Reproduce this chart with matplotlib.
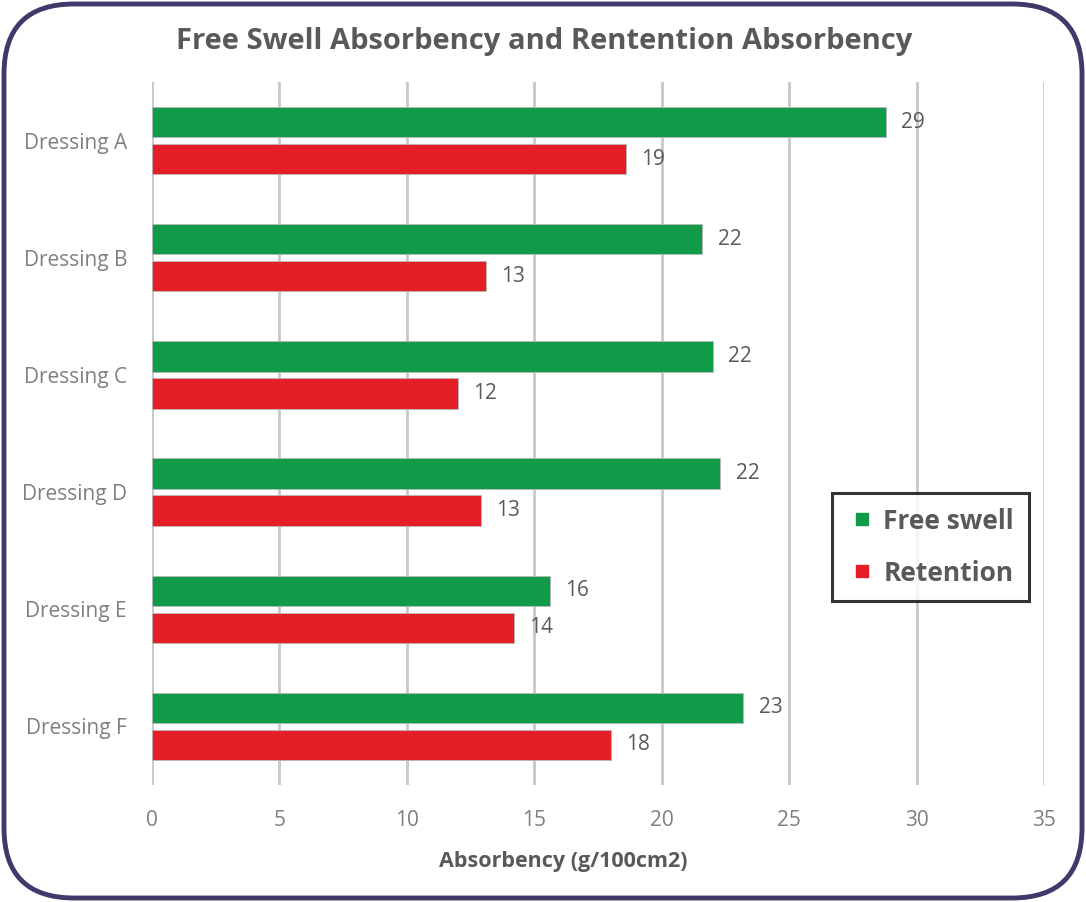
import numpy as np
import matplotlib
matplotlib.use('Agg')
import matplotlib.pyplot as plt
from matplotlib.patches import FancyBboxPatch
from matplotlib.lines import Line2D
from matplotlib.transforms import IdentityTransform

plt.rcParams['font.family'] = ['Open Sans', 'DejaVu Sans']

dressings = ['Dressing A', 'Dressing B', 'Dressing C', 'Dressing D', 'Dressing E', 'Dressing F']
free_swell = [28.8, 21.6, 22.0, 22.3, 15.6, 23.2]
retention = [18.6, 13.1, 12.0, 12.9, 14.2, 18.0]
series_names = ['Free swell', 'Retention']
xticks = [0, 5, 10, 15, 20, 25, 30, 35]

green = '#119a48'
red = '#e31e27'
label_grey = '#595959'
tick_grey = '#7f7f7f'

fig = plt.figure(figsize=(10.86, 9.02), dpi=100)
ax = fig.add_axes([152 / 1086, 1 - 785 / 902, (1044 - 152) / 1086, (785 - 82) / 902])

y = np.arange(len(dressings))
h = 0.26
off = 0.158
b1 = ax.barh(y - off, free_swell, height=h, color=green, edgecolor='#b8b8b8', linewidth=0.6,
             zorder=3)
b2 = ax.barh(y + off, retention, height=h, color=red, edgecolor='#b8b8b8', linewidth=0.6,
             zorder=3)

for bars in (b1, b2):
    ax.bar_label(bars, labels=['{:.0f}'.format(b.get_width()) for b in bars],
                 padding=11, fontsize=15, color=label_grey)

ax.set_xlim(0, 35)
ax.set_ylim(len(dressings) - 0.5, -0.5)
ax.set_xticks(xticks)
ax.set_yticks(y)
ax.set_yticklabels(dressings)
ax.tick_params(axis='both', length=0, labelsize=15, labelcolor=tick_grey)
ax.tick_params(axis='x', pad=18)
ax.tick_params(axis='y', pad=18)
ax.grid(axis='x', color='#c8c8c8', linewidth=2, zorder=0)
for s in ax.spines.values():
    s.set_visible(False)

fig.text(563 / 1086, 1 - 861 / 902, 'Absorbency (g/100cm2)', ha='center', va='center',
         fontsize=15.5, fontweight='bold', color=label_grey)
fig.text(544 / 1086, 1 - 41 / 902, 'Free Swell Absorbency and Rentention Absorbency',
         ha='center', va='center', fontsize=21, fontweight='bold', color=label_grey)

# small square swatches for the legend
handles = [Line2D([], [], marker='s', linestyle='none', markersize=9,
                  markerfacecolor=c, markeredgecolor=c) for c in (green, red)]
leg = ax.legend(handles, series_names, loc='upper left',
                bbox_to_anchor=((832 - 152) / 892, (785 - 493) / 703),
                frameon=True, fancybox=False, edgecolor='black', fontsize=19,
                handlelength=1.2, handletextpad=0.2,
                labelspacing=0.95, borderpad=0.55, borderaxespad=0)
leg.get_frame().set_linewidth(2.2)
for t in leg.get_texts():
    t.set_fontweight('bold')
    t.set_color(label_grey)

# rounded outer frame
frame = FancyBboxPatch((4, 4), 1078, 894, boxstyle='round,pad=0,rounding_size=70',
                       transform=IdentityTransform(), facecolor='none',
                       edgecolor='#403a6c', linewidth=3.5)
fig.add_artist(frame)

fig.savefig('out.png', dpi=100)
